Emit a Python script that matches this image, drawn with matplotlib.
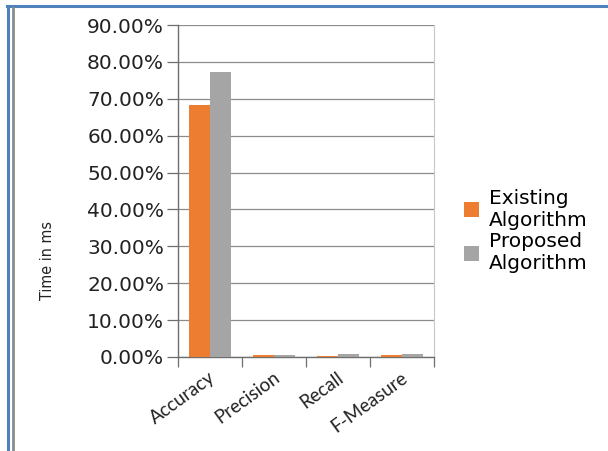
import matplotlib
matplotlib.use("Agg")
import matplotlib.pyplot as plt
from matplotlib.lines import Line2D
from matplotlib.patches import Patch
import numpy as np

categories = ["Accuracy", "Precision", "Recall", "F-Measure"]
existing = [68.2, 0.5, 0.4, 0.5]
proposed = [77.3, 0.6, 0.8, 0.7]
series_names = ["Existing\nAlgorithm", "Proposed\nAlgorithm"]
yticks = [0, 10, 20, 30, 40, 50, 60, 70, 80, 90]

ORANGE = "#ED7D31"
GREY = "#A5A5A5"
TICK_FONT = ["DejaVu Sans"]
CAT_FONT = ["Lato", "DejaVu Sans"]

fig = plt.figure(figsize=(6.08, 4.51), dpi=100)
ax = fig.add_axes([178 / 608, 1 - 357 / 451, 256 / 608, 332 / 451])

x = np.arange(len(categories))
w = 0.335
ax.bar(x - w / 2, existing, w, color=ORANGE, zorder=3)
ax.bar(x + w / 2, proposed, w, color=GREY, zorder=3)

ax.set_xlim(-0.5, len(categories) - 0.5)
ax.set_ylim(0, 90)
ax.set_yticks(yticks)
ax.set_yticklabels([f"{v:.2f}%" for v in yticks], family=TICK_FONT, fontsize=14.5,
                   color="#222222")
ax.yaxis.grid(True, color="#8c8c8c", lw=0.9, zorder=0)
ax.tick_params(axis="y", length=8, width=0.9, color="#6e6e6e", pad=2)

ax.set_xticks(np.arange(len(categories) + 1) - 0.5, minor=False)
ax.set_xticklabels([])
ax.tick_params(axis="x", length=7, width=0.9, color="#6e6e6e")
for i, c in enumerate(categories):
    ax.text(i - 0.02, -3.2, c, rotation=36, ha="right", va="top", rotation_mode="anchor",
            family=CAT_FONT, fontsize=13.5, color="#222222")

for s in ("left", "bottom"):
    ax.spines[s].set_color("#6e6e6e")
    ax.spines[s].set_linewidth(1.0)
ax.spines["right"].set_color("#c8c8c8")
ax.spines["right"].set_linewidth(0.8)
ax.spines["top"].set_visible(False)

fig.text(47 / 608, 1 - 261 / 451, "Time in ms", rotation=90, ha="center", va="center",
         family="DejaVu Sans", fontstretch="condensed", fontsize=11.5, color="#222222")

handles = [Patch(facecolor=ORANGE, edgecolor="none"), Patch(facecolor=GREY, edgecolor="none")]
fig.legend(handles, series_names, loc="center left", bbox_to_anchor=(446 / 608, 1 - 231 / 451),
           frameon=False, prop={"family": TICK_FONT, "size": 14.5}, handlelength=0.75,
           handleheight=0.75, handletextpad=0.5, labelspacing=0.12)

# page frame lines
fig.add_artist(Line2D([7 / 608, 1], [1 - 6 / 451] * 2, color="#4f81bd", lw=2.2))
fig.add_artist(Line2D([8 / 608] * 2, [0, 1 - 6 / 451], color="#4f81bd", lw=2.2))
fig.add_artist(Line2D([12.5 / 608] * 2, [0, 1 - 8 / 451], color="#8c8c8c", lw=2.0))

fig.savefig("out.png", dpi=100)
